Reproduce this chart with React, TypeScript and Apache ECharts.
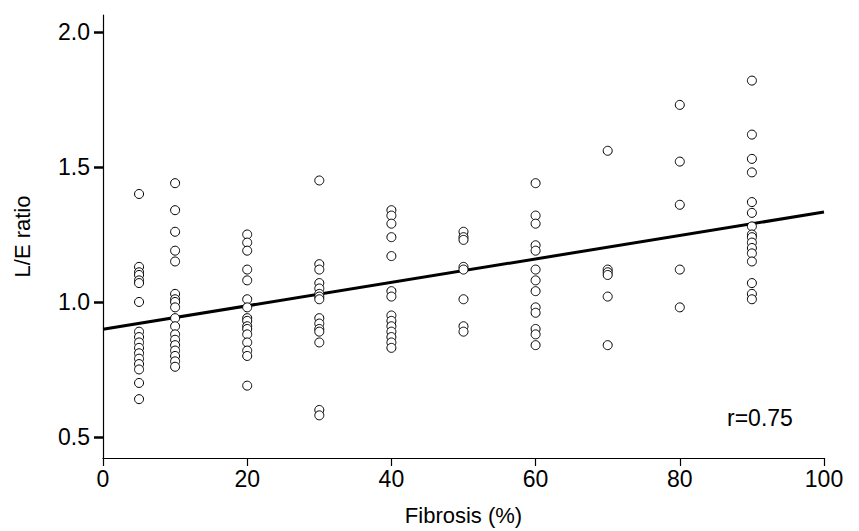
import React, { useEffect, useRef } from "react";
import * as echarts from "echarts";

const fibrosisLevels = [5, 10, 20, 30, 40, 50, 60, 70, 80, 90];

const ratios5 = [1.40, 1.13, 1.11, 1.10, 1.08, 1.07, 1.00, 0.89, 0.87, 0.85, 0.83, 0.81, 0.79, 0.77, 0.75, 0.70, 0.64];
const ratios10 = [1.44, 1.34, 1.26, 1.19, 1.15, 1.03, 1.01, 1.00, 0.98, 0.94, 0.91, 0.88, 0.86, 0.84, 0.82, 0.80, 0.78, 0.76];
const ratios20 = [1.25, 1.22, 1.19, 1.12, 1.08, 1.01, 0.98, 0.94, 0.93, 0.91, 0.90, 0.88, 0.85, 0.82, 0.80, 0.69];
const ratios30 = [1.45, 1.14, 1.12, 1.07, 1.05, 1.03, 1.02, 1.01, 0.94, 0.92, 0.90, 0.89, 0.85, 0.60, 0.58];
const ratios40 = [1.34, 1.32, 1.29, 1.24, 1.17, 1.04, 1.02, 0.95, 0.93, 0.91, 0.89, 0.87, 0.85, 0.83];
const ratios50 = [1.26, 1.24, 1.23, 1.13, 1.12, 1.01, 0.91, 0.89];
const ratios60 = [1.44, 1.32, 1.29, 1.21, 1.19, 1.12, 1.08, 1.04, 0.98, 0.96, 0.90, 0.88, 0.84];
const ratios70 = [1.56, 1.12, 1.11, 1.10, 1.02, 0.84];
const ratios80 = [1.73, 1.52, 1.36, 1.12, 0.98];
const ratios90 = [1.82, 1.62, 1.53, 1.48, 1.37, 1.33, 1.28, 1.25, 1.24, 1.22, 1.20, 1.18, 1.15, 1.07, 1.03, 1.01];

const ratioColumns = [ratios5, ratios10, ratios20, ratios30, ratios40, ratios50, ratios60, ratios70, ratios80, ratios90];

const fitLineX = [0, 100];
const fitLineY = [0.899, 1.333];

const xTicks = [0, 20, 40, 60, 80, 100];
const yTicks = [0.5, 1.0, 1.5, 2.0];

const FONT = "'Liberation Sans', Arial, Helvetica, sans-serif";

export default function App() {
  const ref = useRef<HTMLDivElement>(null);

  useEffect(() => {
    if (!ref.current) return;
    const chart = echarts.init(ref.current, null, { renderer: "svg" });

    const points: number[][] = [];
    fibrosisLevels.forEach((x, i) => {
      ratioColumns[i].forEach((y) => points.push([x, y]));
    });

    chart.setOption({
      animation: false,
      backgroundColor: "#fff",
      grid: { left: 103, top: 15, width: 721, height: 443, containLabel: false },
      xAxis: {
        type: "value",
        min: 0,
        max: 100,
        interval: 20,
        name: "Fibrosis (%)",
        nameLocation: "middle",
        nameGap: 46,
        nameTextStyle: { fontSize: 22, color: "#000", fontFamily: FONT },
        axisLine: { show: true, onZero: false, lineStyle: { color: "#000", width: 1.2 } },
        axisTick: { show: true, length: 8, lineStyle: { color: "#000", width: 1.2 }, customValues: xTicks },
        axisLabel: { fontSize: 23, color: "#000", fontFamily: FONT, margin: 9, customValues: xTicks },
        splitLine: { show: false },
      },
      yAxis: {
        type: "value",
        min: 0.422,
        max: 2.063,
        name: "L/E ratio",
        nameLocation: "middle",
        nameGap: 70,
        nameRotate: 90,
        nameTextStyle: { fontSize: 22, color: "#000", fontFamily: FONT },
        axisLine: { show: true, onZero: false, lineStyle: { color: "#000", width: 1.2 } },
        axisTick: { show: true, length: 9, lineStyle: { color: "#000", width: 2.5 }, customValues: yTicks },
        axisLabel: {
          fontSize: 23,
          color: "#000",
          fontFamily: FONT,
          margin: 13,
          customValues: yTicks,
          formatter: (v: number) => v.toFixed(1),
        },
        splitLine: { show: false },
      },
      series: [
        {
          type: "line",
          data: fitLineX.map((x, i) => [x, fitLineY[i]]),
          symbol: "none",
          lineStyle: { color: "#000", width: 3 },
          z: 2,
        },
        {
          type: "scatter",
          data: points,
          symbol: "circle",
          symbolSize: 9,
          itemStyle: { color: "#fff", borderColor: "#000", borderWidth: 1, opacity: 1 },
          z: 3,
        },
      ],
      graphic: [
        {
          type: "text",
          left: 727,
          top: 406,
          style: { text: "r=0.75", fontSize: 23, fill: "#000", fontFamily: FONT },
        },
      ],
    });

    return () => chart.dispose();
  }, []);

  return <div ref={ref} style={{ width: 859, height: 531, position: "absolute", left: 0, top: 0 }} />;
}
